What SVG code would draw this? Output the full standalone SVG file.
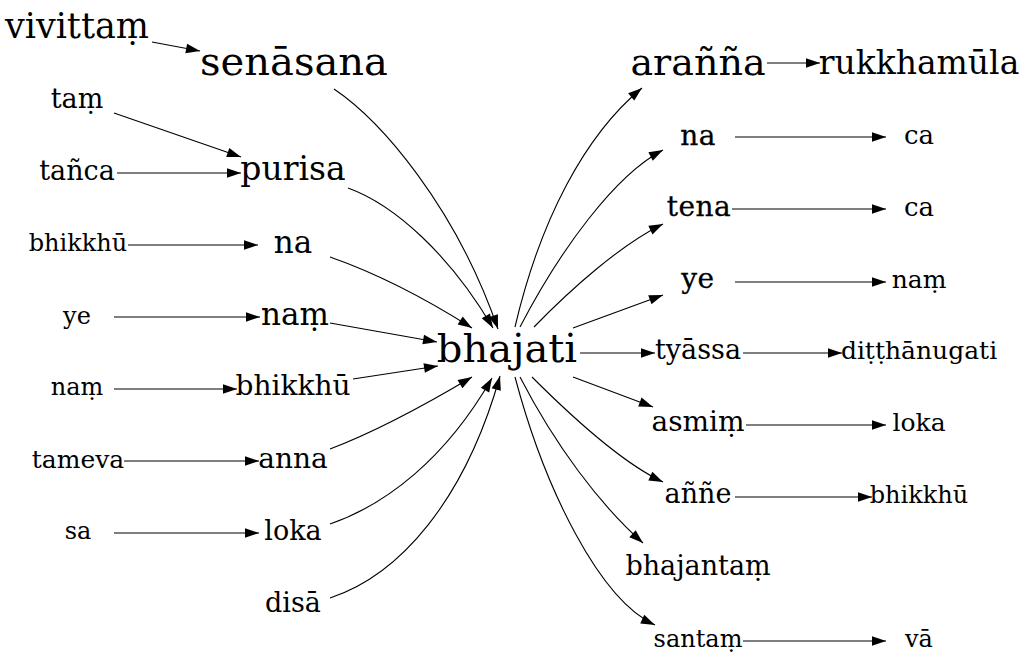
<svg xmlns="http://www.w3.org/2000/svg" width="1027" height="671" viewBox="0 0 1027 671">
<defs>
<marker id="ah" markerUnits="userSpaceOnUse" markerWidth="14" markerHeight="10" refX="14" refY="4.8" orient="auto" overflow="visible">
<path d="M0,0 L14,4.8 L0,9.6 Z" fill="#000"/>
</marker>
<style>
text{font-family:"DejaVu Serif",serif;fill:#000;text-anchor:middle}
.m{stroke:#000;stroke-width:0.3;letter-spacing:0.5px}
.e path{fill:none;stroke:#000;stroke-width:1.1;marker-end:url(#ah)}
</style>
</defs>
<rect width="1027" height="671" fill="#fff"/>
<g class="e" id="edges">
<path d="M152,42 L200,51"/>
<path d="M114,113 L241,157"/>
<path d="M117,173 L241,173"/>
<path d="M128,245 L258,245"/>
<path d="M114,317 L260,317"/>
<path d="M114,389 L237,389"/>
<path d="M124,461 L259,461"/>
<path d="M114,533 L259,533"/>
<path d="M334,89 C380,120 455,205 498,329"/>
<path d="M348,188 C395,205 450,255 493,328"/>
<path d="M330,257 C370,271 420,295 472,328"/>
<path d="M330,323 L437,342"/>
<path d="M353,379 L438,366"/>
<path d="M330,449 C375,432 425,405 472,377"/>
<path d="M330,524 C385,505 445,460 492,378"/>
<path d="M330,598 C400,575 465,500 500,376"/>
<path d="M515,327 C540,220 585,135 642,88"/>
<path d="M520,327 C560,250 615,175 663,150"/>
<path d="M534,327 C570,290 620,245 663,224"/>
<path d="M573,328 L663,295"/>
<path d="M580,353 L655,353"/>
<path d="M573,377 L653,407"/>
<path d="M532,377 C570,415 620,462 663,482"/>
<path d="M520,377 C555,445 600,505 643,543"/>
<path d="M515,377 C545,490 600,600 655,625"/>
<path d="M767,63 L820,63"/>
<path d="M735,137 L886,137"/>
<path d="M732,209 L886,209"/>
<path d="M735,282 L886,282"/>
<path d="M743,353 L842,353"/>
<path d="M746,425 L886,425"/>
<path d="M735,497 L872,497"/>
<path d="M743,641 L886,641"/>
</g>
<g id="n_vivittam"><text x="77" y="38" font-size="35">vivittaṃ</text></g>
<g id="n_tam"><text x="77" y="108" font-size="27">taṃ</text></g>
<g id="n_tanca"><text x="77" y="180" font-size="27">tañca</text></g>
<g id="n_bhikkhu0"><text x="78" y="251" font-size="24">bhikkhū</text></g>
<g id="n_ye0"><text x="77" y="324" font-size="24">ye</text></g>
<g id="n_nam0"><text x="77" y="395" font-size="24">naṃ</text></g>
<g id="n_tameva"><text x="78" y="468" font-size="25">tameva</text></g>
<g id="n_sa"><text x="78" y="539" font-size="24">sa</text></g>
<g id="n_senasana"><text x="294" y="75" font-size="40">senāsana</text></g>
<g id="n_purisa"><text x="293" y="180" font-size="33">purisa</text></g>
<g id="n_na1"><text x="293" y="253" font-size="31">na</text></g>
<g id="n_nam1"><text x="295" y="325" font-size="31">naṃ</text></g>
<g id="n_bhikkhu1"><text x="293" y="395" font-size="28">bhikkhū</text></g>
<g id="n_anna"><text x="293" y="468" font-size="28">anna</text></g>
<g id="n_loka1"><text x="293" y="540" font-size="27">loka</text></g>
<g id="n_disa"><text x="293" y="612" font-size="27">disā</text></g>
<g id="n_bhajati"><text x="507" y="362" font-size="40">bhajati</text></g>
<g id="n_aranna"><text x="698" y="75" font-size="38">arañña</text></g>
<g id="n_na3"><text class="m" x="698" y="145" font-size="28">na</text></g>
<g id="n_tena"><text class="m" x="699" y="216" font-size="28">tena</text></g>
<g id="n_ye3"><text class="m" x="698" y="288" font-size="28">ye</text></g>
<g id="n_tyassa"><text x="698" y="359" font-size="27">tyāssa</text></g>
<g id="n_asmim"><text x="698" y="431" font-size="28">asmiṃ</text></g>
<g id="n_anne"><text x="698" y="503" font-size="27">aññe</text></g>
<g id="n_bhajantam"><text x="698" y="575" font-size="27">bhajantaṃ</text></g>
<g id="n_santam"><text x="698" y="647" font-size="24">santaṃ</text></g>
<g id="n_rukkhamula"><text x="919" y="74" font-size="33">rukkhamūla</text></g>
<g id="n_ca1"><text x="919" y="144" font-size="26">ca</text></g>
<g id="n_ca2"><text x="919" y="216" font-size="26">ca</text></g>
<g id="n_nam4"><text x="919" y="288" font-size="25">naṃ</text></g>
<g id="n_ditthanugati"><text x="919" y="359" font-size="25">diṭṭhānugati</text></g>
<g id="n_loka4"><text x="919" y="431" font-size="25">loka</text></g>
<g id="n_bhikkhu4"><text x="919" y="503" font-size="24">bhikkhū</text></g>
<g id="n_va"><text x="919" y="647" font-size="24">vā</text></g>
</svg>
